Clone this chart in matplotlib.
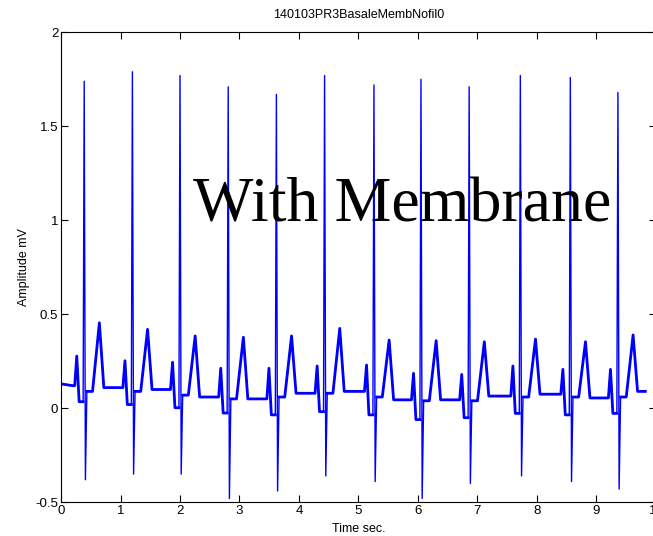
import matplotlib
matplotlib.use("Agg")
import matplotlib.pyplot as plt
import numpy as np

# ---- data ----
r_times = [0.39, 1.20, 2.00, 2.81, 3.62, 4.43, 5.26, 6.05, 6.86, 7.72, 8.56, 9.36]
r_amp   = [1.74, 1.79, 1.77, 1.71, 1.67, 1.77, 1.72, 1.75, 1.71, 1.77, 1.76, 1.68]
s_amp   = [-0.38, -0.35, -0.35, -0.48, -0.44, -0.36, -0.39, -0.48, -0.40, -0.36, -0.39, -0.43]
t_amp   = [0.455, 0.42, 0.385, 0.378, 0.385, 0.425, 0.363, 0.36, 0.354, 0.368, 0.354, 0.39]
p_amp   = [0.278, 0.253, 0.245, 0.213, 0.213, 0.225, 0.23, 0.186, 0.18, 0.225, 0.207, 0.207]
q_amp   = [0.035, 0.02, 0.003, -0.025, -0.035, -0.018, -0.035, -0.06, -0.05, -0.027, -0.035, -0.027]
st_amp  = [0.09, 0.09, 0.07, 0.05, 0.06, 0.08, 0.06, 0.04, 0.04, 0.06, 0.06, 0.06]
iso     = [0.12, 0.11, 0.10, 0.06, 0.05, 0.08, 0.09, 0.045, 0.045, 0.065, 0.075, 0.055, 0.09]
t_start, t_end = 0.0, 9.82
start_val, end_val = 0.13, 0.09

# beat template (offsets from R in seconds) -> which value list to use
template = [(-0.19, "iso"), (-0.16, "iso"), (-0.125, "p"), (-0.085, "q"),
            (-0.018, "q"), (0.0, "r"), (0.02, "s"), (0.045, "st"),
            (0.14, "st"), (0.255, "t"), (0.33, "iso_next")]

tt = [t_start]
vv = [start_val]
thick_t = [t_start]
thick_v = [start_val]
for i, r in enumerate(r_times):
    vals = {"iso": iso[i], "p": p_amp[i], "q": q_amp[i], "r": r_amp[i],
            "s": s_amp[i], "st": st_amp[i], "t": t_amp[i], "iso_next": iso[i + 1]}
    for off, key in template:
        tt.append(r + off)
        vv.append(vals[key])
        if key in ("r", "s"):
            thick_t.append(np.nan); thick_v.append(np.nan)
        else:
            thick_t.append(r + off); thick_v.append(vals[key])
tt.append(t_end); vv.append(end_val)
thick_t.append(t_end); thick_v.append(end_val)

fig = plt.figure(figsize=(6.53, 5.36), dpi=100)
ax = fig.add_axes([61 / 653, 33.7 / 536, 595 / 653, 470 / 536])
ax.plot(thick_t, thick_v, color=(0, 0, 1), lw=2.0)
ax.plot(tt, vv, color=(0, 0, 1), lw=1.0)

ax.set_xlim(0, 10)
ax.set_ylim(-0.5, 2)
ax.set_xticks(range(0, 11))
ax.set_yticks([-0.5, 0, 0.5, 1, 1.5, 2])
ax.set_yticklabels(["-0.5", "0", "0.5", "1", "1.5", "2"])
ax.tick_params(direction="in", top=True, right=True, length=5, width=0.8,
               labelsize=9.5, pad=2)
for lab in ax.get_xticklabels() + ax.get_yticklabels():
    lab.set_family("Liberation Sans")
for sp in ax.spines.values():
    sp.set_linewidth(0.8)

ax.set_title("140103PR3BasaleMembNofil0", fontsize=9, family="Liberation Sans", pad=10)
ax.set_xlabel("Time sec.", fontsize=9, family="Liberation Sans", labelpad=4)
ax.set_ylabel("Amplitude mV", fontsize=9, family="Liberation Sans", labelpad=4)

ax.text(2.22, 0.996, "With Membrane", family="Liberation Serif", fontsize=46,
        va="baseline", ha="left", color="black")

fig.savefig("out.png", dpi=100)
